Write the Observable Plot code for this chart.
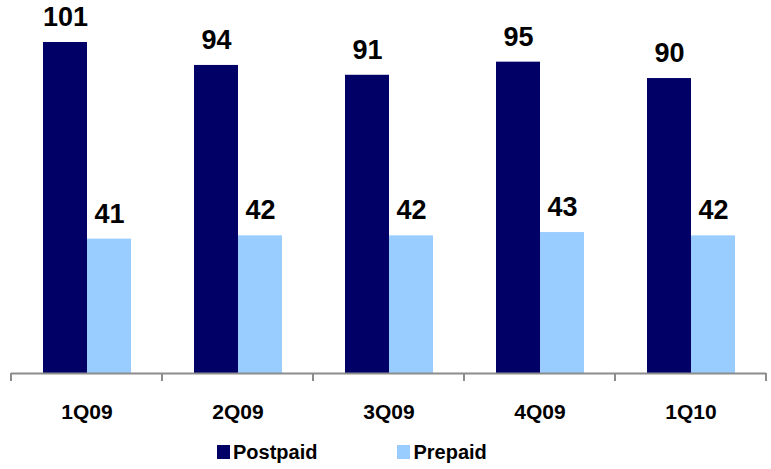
<!DOCTYPE html>
<html>
<head>
<meta charset="utf-8">
<script src="https://cdn.jsdelivr.net/npm/d3@7"></script>
<script src="https://cdn.jsdelivr.net/npm/@observablehq/plot@0.6"></script>
<style>
  body { margin: 0; background: #fff; font-family: "Liberation Sans", Arial, sans-serif; }
  #chart svg { display: block; }
  .legend { display: flex; align-items: center; padding-left: 217px; height: 34px; font-weight: bold; font-size: 20px; color: #000; }
  .legend .item { display: flex; align-items: center; }
  .legend .item + .item { margin-left: 80px; }
  .legend .sw { width: 13px; height: 14px; margin-right: 3px; }
</style>
</head>
<body>
<div id="chart"></div>
<script>
const quarters = ["1Q09", "2Q09", "3Q09", "4Q09", "1Q10"];
const postpaid = [101, 94, 91, 95, 90];
const prepaid = [41, 42, 42, 43, 42];
const series = ["Postpaid", "Prepaid"];
const colors = ["#000066", "#99CCFF"];

const data = quarters.flatMap((q, i) => [
  {quarter: q, series: series[0], value: postpaid[i]},
  {quarter: q, series: series[1], value: prepaid[i]}
]);

const chart = Plot.plot({
  width: 771,
  height: 435,
  marginTop: 42,
  marginBottom: 62,
  marginLeft: 10,
  marginRight: 5,
  style: {fontFamily: "'Liberation Sans', Arial, sans-serif", fontSize: "21px", fontWeight: "bold", color: "#000", background: "#fff"},
  facet: {data, x: "quarter"},
  fx: {domain: quarters, paddingInner: 0, paddingOuter: 0, axis: "bottom", tickSize: 0, tickPadding: 31, label: null},
  x: {domain: series, axis: null, paddingInner: 0, paddingOuter: 0.71},
  y: {domain: [0, 101], axis: null},
  color: {domain: series, range: colors},
  marks: [
    Plot.barY(data, {x: "series", y: "value", fill: "series"}),
    Plot.ruleY([0], {stroke: "#8c8c8c", strokeWidth: 2}),
    Plot.text(data, {x: "series", y: "value", text: d => String(d.value), dy: -25, fontSize: 27, fontWeight: "bold", fill: "#000"})
  ]
});

document.getElementById("chart").appendChild(chart);

// boundary tick marks on the category axis, positioned from the plot's own scales
(function () {
  let y0 = 373, bounds;
  try { y0 = chart.scale("y").apply(0); } catch (e) {}
  try {
    const fx = chart.scale("fx");
    bounds = quarters.map(q => fx.apply(q));
    bounds.push(fx.apply(quarters[quarters.length - 1]) + fx.bandwidth);
  } catch (e) {
    const l = 10, r = 771 - 5, step = (r - l) / quarters.length;
    bounds = d3.range(quarters.length + 1).map(i => l + i * step);
  }
  d3.select(chart).append("g")
    .selectAll("line").data(bounds).join("line")
    .attr("x1", d => d).attr("x2", d => d)
    .attr("y1", y0).attr("y2", y0 + 8)
    .attr("stroke", "#8c8c8c").attr("stroke-width", 2);
})();

const legend = document.createElement("div");
legend.className = "legend";
series.forEach((s, i) => {
  const item = document.createElement("div");
  item.className = "item";
  const sw = document.createElement("span");
  sw.className = "sw";
  sw.style.background = colors[i];
  const t = document.createElement("span");
  t.textContent = s;
  item.appendChild(sw);
  item.appendChild(t);
  legend.appendChild(item);
});
document.body.appendChild(legend);
</script>
</body>
</html>
